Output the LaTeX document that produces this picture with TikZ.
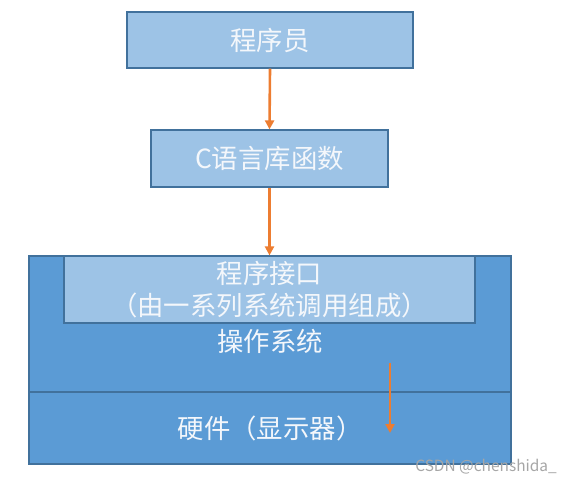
\documentclass[tikz,border=0pt]{standalone}
\usepackage{fontspec}
\setmainfont{Noto Sans CJK SC}
\usetikzlibrary{arrows.meta}
\definecolor{lightfill}{HTML}{9DC3E6}
\definecolor{darkfill}{HTML}{5B9BD5}
\definecolor{edge}{HTML}{41719C}
\definecolor{arrowc}{HTML}{ED7D31}
\definecolor{txt}{HTML}{F4F7FB}
\tikzset{
  lbox/.style={draw=edge, line width=1.2bp, fill=lightfill, inner sep=0pt, text=txt, font=\fontsize{26.5}{33}\selectfont, align=center},
  dbox/.style={draw=edge, line width=1.2bp, fill=darkfill, inner sep=0pt, text=txt, font=\fontsize{26.5}{33}\selectfont},
  arr/.style={draw=arrowc, line width=2.6bp, -{Triangle[length=9bp,width=9bp]}},
  lbl/.style={text=txt, font=\fontsize{26.5}{33}\selectfont, inner sep=0pt}
}
\begin{document}
\begin{tikzpicture}[x=1bp,y=-1bp]
\useasboundingbox (0,0) rectangle (571,487);
% operating system and hardware
\node[dbox, minimum width=482bp, minimum height=136bp] (os) at (270,324) {};
\node[dbox, minimum width=482bp, minimum height=72bp] (hw) at (270,428) {硬件（显示器）};
\node[lbl] (oslabel) at (270,341) {操作系统};
\node[lbox, minimum width=411bp, minimum height=67bp] (api) at (269.5,289.5) {程序接口\\[-1bp]（由一系列系统调用组成）};
% upper boxes
\node[lbox, minimum width=286bp, minimum height=56bp] (prog) at (270,40) {程序员};
\node[lbox, minimum width=237bp, minimum height=57bp] (clib) at (269.5,158.5) {C语言库函数};
% arrows
\draw[arr] (prog.south) -- (clib.north);
\draw[arr] (clib.south) -- (api.north);
\coordinate (ia) at (390,363);
\coordinate (ib) at (390,433);
\draw[arr] (ia) -- (ib);
% watermark
\node[text=gray!70, font=\fontsize{15.5}{18}\selectfont, anchor=east, inner sep=0pt] (wm) at (557,467) {CSDN @chenshida\_};
\end{tikzpicture}
\end{document}
